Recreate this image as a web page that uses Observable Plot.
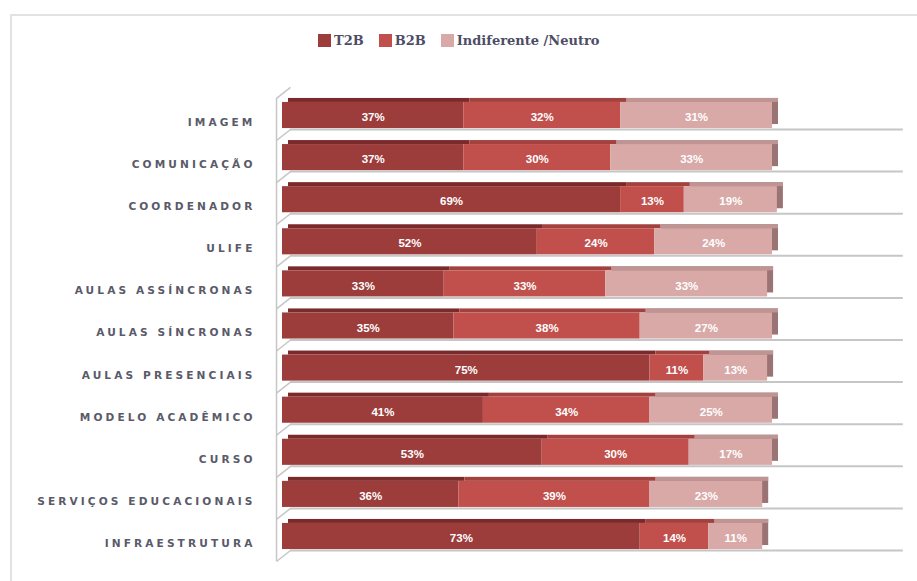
<!DOCTYPE html>
<html>
<head>
<meta charset="utf-8">
<script src="https://cdn.jsdelivr.net/npm/d3@7"></script>
<script src="https://cdn.jsdelivr.net/npm/@observablehq/plot@0.6"></script>
<style>
  html, body { margin: 0; padding: 0; background: #fff; width: 917px; height: 581px; overflow: hidden; }
  #frame { position: absolute; left: 10px; top: 14px; width: 960px; height: 620px;
           border-left: 2px solid #e2e2e2; border-top: 2px solid #e2e2e2; box-sizing: border-box; }
  #legend { position: absolute; left: 318px; top: 33px; display: flex; gap: 15px; align-items: center;
            font-family: "DejaVu Serif", serif; font-size: 13px; font-weight: bold; color: #4d4d66; }
  #legend .item { display: flex; align-items: center; }
  #legend .sw { width: 13px; height: 13px; margin-right: 3px; }
  #chart { position: absolute; left: 0; top: 80px; }
  text[aria-label="cat-labels"] { letter-spacing: 3.1px; }
</style>
</head>
<body>
<div id="frame"></div>
<div id="legend"></div>
<div id="chart"></div>
<script>
const categories = ["IMAGEM","COMUNICAÇÃO","COORDENADOR","ULIFE","AULAS ASSÍNCRONAS","AULAS SÍNCRONAS","AULAS PRESENCIAIS","MODELO ACADÊMICO","CURSO","SERVIÇOS EDUCACIONAIS","INFRAESTRUTURA"];
const series = ["T2B", "B2B", "Indiferente /Neutro"];
const t2b    = [37, 37, 69, 52, 33, 35, 75, 41, 53, 36, 73];
const b2b    = [32, 30, 13, 24, 33, 38, 11, 34, 30, 39, 14];
const neutro = [31, 33, 19, 24, 33, 27, 13, 25, 17, 23, 11];
const frontColors = ["#9c3d3c", "#c1504d", "#d9a9a8"];
const topColors   = ["#7a2a2a", "#a3413e", "#bf9594"];
const sideColor   = "#9a7474";

// legend
const legend = document.getElementById("legend");
series.forEach((s, k) => {
  const it = document.createElement("div"); it.className = "item";
  const sw = document.createElement("div"); sw.className = "sw"; sw.style.background = frontColors[k];
  const tx = document.createElement("span"); tx.textContent = s;
  it.appendChild(sw); it.appendChild(tx); legend.appendChild(it);
});

// table
const valuesBySeries = [t2b, b2b, neutro];
const rows = [];
categories.forEach((c, i) => {
  let x0 = 0;
  valuesBySeries.forEach((vals, k) => {
    const v = vals[i];
    rows.push({cat: c, i, k, series: series[k], value: v, x1: x0, x2: x0 + v, mid: x0 + v / 2});
    x0 += v;
  });
});
const lastRows = rows.filter(d => d.k === 2);
const idx = categories.map((c, i) => i);
const wallIdx = d3.range(-1, categories.length);

const plot = Plot.plot({
  width: 917,
  height: 501,
  marginLeft: 282,
  marginRight: 145,
  marginTop: 13.95,
  marginBottom: 23.95,
  x: {domain: [0, 100], axis: null},
  y: {domain: [-0.5, categories.length - 0.5], reverse: true, axis: null},
  style: {background: "transparent", overflow: "visible"},
  marks: [
    // floor lines
    Plot.ruleY(idx, {y: i => i + 0.333, x1: 1.63, x2: 126.7, stroke: "#c6c6c6", strokeWidth: 2}),
    // wall
    Plot.ruleX([-1.22], {y1: -0.406, y2: categories.length - 1 + 0.594, stroke: "#c6c6c6", strokeWidth: 1.5}),
    Plot.link(wallIdx, {x1: -1.22, y1: i => i + 0.594, x2: 1.63, y2: i => i + 0.333, stroke: "#c6c6c6", strokeWidth: 1.5}),
    // side face of last segment
    Plot.rect(lastRows, {x1: "x1", x2: "x2", y1: d => d.i - 0.5, y2: d => d.i + 0.5,
      insetTop: 8, insetBottom: 8, dx: 6, dy: -4, fill: sideColor}),
    // top faces
    Plot.rect(rows, {x1: "x1", x2: "x2", y1: d => d.i - 0.5, y2: d => d.i + 0.5,
      insetTop: 8, insetBottom: 30.1, dx: 6, dy: -4, fill: d => topColors[d.k]}),
    // front faces
    Plot.rect(rows, {x1: "x1", x2: "x2", y1: d => d.i - 0.5, y2: d => d.i + 0.5,
      insetTop: 8, insetBottom: 8, fill: d => frontColors[d.k]}),
    // value labels
    Plot.text(rows, {x: "mid", y: "i", text: d => d.value + "%", fill: "white", dy: 2,
      fontFamily: "Liberation Sans, Arial, sans-serif", fontWeight: "bold", fontSize: 11.5}),
    // category labels
    Plot.text(idx, {x: 0, y: i => i, text: i => categories[i], dx: -27, dy: 7, textAnchor: "end",
      fill: "#5a5a6a", fontFamily: "DejaVu Sans, sans-serif", fontWeight: "bold", fontSize: 10.6,
      ariaLabel: () => "cat-labels"})
  ]
});
document.getElementById("chart").appendChild(plot);
</script>
</body>
</html>
